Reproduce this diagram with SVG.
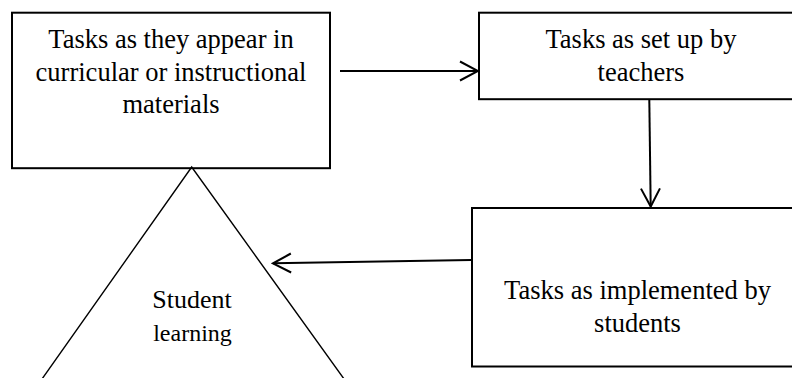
<svg xmlns="http://www.w3.org/2000/svg" width="792" height="378" viewBox="0 0 792 378">
<style>
.box{fill:#fff;stroke:#000;stroke-width:2}
.tri{fill:none;stroke:#000;stroke-width:1.4}
.t{font-family:"Liberation Serif","Times New Roman",serif;font-size:26.5px;fill:#000;text-anchor:middle}
.con{stroke:#000;stroke-width:2;fill:none;marker-end:url(#arr)}
</style>
<defs>
<marker id="arr" markerUnits="userSpaceOnUse" viewBox="-20 -12 22 24" refX="0" refY="0" markerWidth="22" markerHeight="24" orient="auto">
<path d="M-18,-9.5 L0,0 L-18,9.5" fill="none" stroke="#000" stroke-width="2"/>
</marker>
</defs>
<rect width="792" height="378" fill="#fff"/>
<g id="materials">
<rect class="box" x="12" y="12.7" width="318" height="155.5"/>
<text class="t" x="171" y="48">Tasks as they appear in</text>
<text class="t" x="171" y="81">curricular or instructional</text>
<text class="t" x="171" y="113">materials</text>
</g>
<g id="teachers">
<rect class="box" x="479" y="12.7" width="330" height="86.5"/>
<text class="t" x="641" y="48">Tasks as set up by</text>
<text class="t" x="641" y="81">teachers</text>
</g>
<g id="students">
<rect class="box" x="472" y="208" width="330" height="158.5"/>
<text class="t" x="637.5" y="299">Tasks as implemented by</text>
<text class="t" x="637.5" y="332">students</text>
</g>
<g id="learning">
<path class="tri" d="M40.6,381 L191.7,167 L345.5,381"/>
<text class="t" x="192" y="308" style="font-size:26px">Student</text>
<text class="t" x="192.5" y="341" style="font-size:24px">learning</text>
</g>
<g id="connectors">
<line class="con" x1="340" y1="71" x2="478" y2="71"/>
<line class="con" x1="649.3" y1="99.5" x2="650.7" y2="206.5"/>
<line class="con" x1="471" y1="260" x2="273" y2="263.3"/>
</g>
</svg>
